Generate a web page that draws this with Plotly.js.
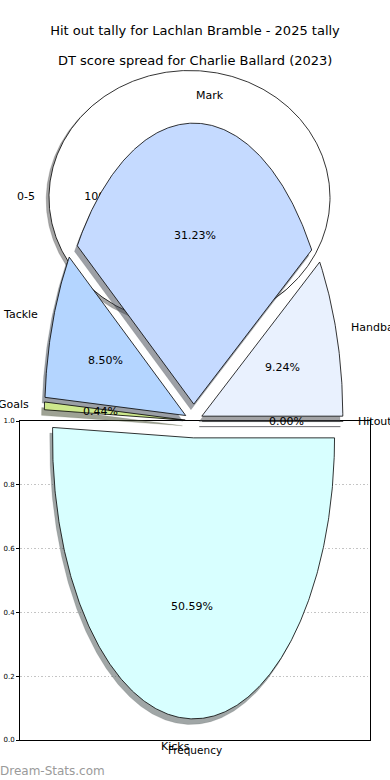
<!DOCTYPE html>
<html>
<head>
<meta charset="utf-8">
<script src="https://cdn.plot.ly/plotly-3.0.1.min.js"></script>
<style>html,body{margin:0;padding:0;background:#fff;}#chart{width:390px;height:780px;}</style>
</head>
<body>
<div id="chart"></div>
<script>
// ---- data ----
const categories = ['Hitout', 'Handball', 'Mark', 'Tackle', 'Goals', 'Kicks'];
const shares = [0.00, 9.24, 31.23, 8.50, 0.44, 50.59];
const spreadBins = ['0-5'];
const spreadCounts = [1];
const yTickVals = [0.0, 0.2, 0.4, 0.6, 0.8, 1.0];
const yTickText = ['0.0', '0.2', '0.4', '0.6', '0.8', '1.0'];
const mainTitle = 'Hit out tally for Lachlan Bramble - 2025 tally';
const subTitle = 'DT score spread for Charlie Ballard (2023)';
const xLabel = 'Frequency';
const watermark = 'Dream-Stats.com';

// ---- styles ----
const wedgeColors = [[236, 242, 255], [233, 241, 254], [197, 218, 255], [180, 213, 255], [205, 232, 140], [216, 255, 255]];
const EXPLODE = 0.06, SHADOW = -0.02, LABEL_D = 1.1, PCT_D = 0.6;
const FONT = 'DejaVu Sans, sans-serif';

function wedgePath(t1, t2, e, ox, oy) {
  const full = Math.abs(t2 - t1 - 360) < 1e-9;
  const mid = (t1 + t2) / 2 * Math.PI / 180;
  const cx = e * Math.cos(mid) + ox, cy = e * Math.sin(mid) + oy;
  const xs = [], ys = [];
  if (!full) { xs.push(cx); ys.push(cy); }
  const n = Math.max(2, Math.ceil((t2 - t1) / 0.5));
  for (let i = 0; i <= n; i++) {
    const a = (t1 + (t2 - t1) * i / n) * Math.PI / 180;
    xs.push(cx + Math.cos(a)); ys.push(cy + Math.sin(a));
  }
  if (!full) { xs.push(cx); ys.push(cy); }
  return {xs, ys};
}
const rgb = c => `rgb(${c[0]},${c[1]},${c[2]})`;
const shadowCol = c => `rgba(${Math.round(c[0]*0.3)},${Math.round(c[1]*0.3)},${Math.round(c[2]*0.3)},0.5)`;

const traces = [];
// empty trace for box axes
traces.push({type: 'scatter', x: [], y: [], xaxis: 'x', yaxis: 'y', hoverinfo: 'skip', showlegend: false});

// background single-slice pie (score spread)
const spreadTotal = spreadCounts.reduce((a, b) => a + b, 0);
let st = 0;
spreadCounts.forEach((v, i) => {
  const t1 = st, t2 = st + 360 * v / spreadTotal; st = t2;
  const sh = wedgePath(t1, t2, 0, SHADOW, SHADOW);
  traces.push({type: 'scatter', x: sh.xs, y: sh.ys, xaxis: 'x2', yaxis: 'y2', mode: 'lines', fill: 'toself',
    fillcolor: shadowCol([255,255,255]), line: {color: shadowCol([255,255,255]), width: 0.5}, hoverinfo: 'skip', showlegend: false});
  const w = wedgePath(t1, t2, 0, 0, 0);
  traces.push({type: 'scatter', x: w.xs, y: w.ys, xaxis: 'x2', yaxis: 'y2', mode: 'lines', fill: 'toself',
    fillcolor: '#ffffff', line: {color: '#000', width: 0.8}, hoverinfo: 'skip', showlegend: false});
  const mid = (t1 + t2) / 2 * Math.PI / 180;
  const lx = LABEL_D * Math.cos(mid), ly = LABEL_D * Math.sin(mid);
  traces.push({type: 'scatter', x: [lx], y: [ly], xaxis: 'x2', yaxis: 'y2', mode: 'text', text: [spreadBins[i]],
    textposition: lx > 0 ? 'middle right' : 'middle left', textfont: {family: FONT, size: 11, color: '#000'},
    hoverinfo: 'skip', showlegend: false, cliponaxis: false});
  traces.push({type: 'scatter', x: [PCT_D * Math.cos(mid)], y: [PCT_D * Math.sin(mid)], xaxis: 'x2', yaxis: 'y2', mode: 'text',
    text: [(100 * v / spreadTotal).toFixed(1) + '%'], textposition: 'middle center',
    textfont: {family: FONT, size: 11, color: '#000'}, hoverinfo: 'skip', showlegend: false, cliponaxis: false});
});

// main exploded pie with shadows
const total = shares.reduce((a, b) => a + b, 0);
const annotations = [];
let t = 0;
shares.forEach((v, i) => {
  const t1 = t, t2 = t + 360 * v / total; t = t2;
  const c = wedgeColors[i];
  const sh = wedgePath(t1, t2, EXPLODE, SHADOW, SHADOW);
  traces.push({type: 'scatter', x: sh.xs, y: sh.ys, xaxis: 'x3', yaxis: 'y3', mode: 'lines', fill: 'toself',
    fillcolor: shadowCol(c), line: {color: shadowCol(c), width: v === 0 ? 1 : 0.3}, hoverinfo: 'skip', showlegend: false});
  const w = wedgePath(t1, t2, EXPLODE, 0, 0);
  traces.push({type: 'scatter', x: w.xs, y: w.ys, xaxis: 'x3', yaxis: 'y3', mode: 'lines', fill: 'toself',
    fillcolor: rgb(c), line: {color: '#000', width: 0.8}, hoverinfo: 'skip', showlegend: false});
  const mid = (t1 + t2) / 2 * Math.PI / 180;
  const lx = (EXPLODE + LABEL_D) * Math.cos(mid), ly = (EXPLODE + LABEL_D) * Math.sin(mid);
  annotations.push({xref: 'x3', yref: 'y3', x: lx, y: ly, text: categories[i], showarrow: false,
    xanchor: lx > 0 ? 'left' : 'right', yanchor: 'middle', borderpad: 0,
    font: {family: FONT, size: 11, color: '#000'}});
  annotations.push({xref: 'x3', yref: 'y3', x: (EXPLODE + PCT_D) * Math.cos(mid), y: (EXPLODE + PCT_D) * Math.sin(mid),
    text: v.toFixed(2) + '%', showarrow: false, xanchor: 'center', yanchor: 'middle', borderpad: 0,
    font: {family: FONT, size: 11, color: '#000'}});
});

annotations.push({xref: 'paper', yref: 'paper', x: 0.5, y: 1 - 61 / 780, text: subTitle, showarrow: false,
  xanchor: 'center', yanchor: 'middle', font: {family: FONT, size: 13, color: '#000'}});
annotations.push({xref: 'paper', yref: 'paper', x: -2 / 390, y: 1 - 771 / 780, text: watermark, showarrow: false,
  xanchor: 'left', yanchor: 'middle', font: {family: FONT, size: 12, color: '#9a9a9a'}});

// pie coordinate frames (pixel centre & radii of the drawing)
const W = 390, H = 780;
const P = {cx: 193.7, cy: 421, rx: 141, ry: 281};
const C = {cx: 189.5, cy: 197.5, rx: 140.5, ry: 127};
const hidden = (range, anchor) => ({domain: [0, 1], range, anchor, visible: false, fixedrange: true, automargin: false});

const layout = {
  width: W, height: H,
  margin: {l: 0, r: 0, t: 0, b: 0},
  paper_bgcolor: '#ffffff', plot_bgcolor: 'rgba(0,0,0,0)',
  showlegend: false,
  title: {text: mainTitle, x: 0.5, xanchor: 'center', y: 1 - 30 / 780, yanchor: 'middle',
    font: {family: FONT, size: 13, color: '#000'}},
  xaxis: {domain: [20 / W, 370 / W], range: [0, 1], anchor: 'y', showgrid: false, zeroline: false,
    showticklabels: false, ticks: '', showline: true, mirror: true, linecolor: '#000', linewidth: 1,
    automargin: false, fixedrange: true,
    title: {text: xLabel, standoff: 6, font: {family: FONT, size: 10.5, color: '#000'}}},
  yaxis: {domain: [(H - 740) / H, (H - 421) / H], range: [0, 1], anchor: 'x', tickvals: yTickVals, ticktext: yTickText,
    ticks: 'outside', ticklen: 3, tickcolor: '#000', showline: true, mirror: true, linecolor: '#000', linewidth: 1,
    showgrid: true, gridcolor: '#c4c4c4', griddash: '1.5px,2px', gridwidth: 1, zeroline: false,
    tickfont: {family: FONT, size: 7, color: '#000'}, automargin: false, fixedrange: true},
  xaxis2: hidden([-C.cx / C.rx, (W - C.cx) / C.rx], 'y2'),
  yaxis2: hidden([-(H - C.cy) / C.ry, C.cy / C.ry], 'x2'),
  xaxis3: hidden([-P.cx / P.rx, (W - P.cx) / P.rx], 'y3'),
  yaxis3: hidden([-(H - P.cy) / P.ry, P.cy / P.ry], 'x3'),
  annotations
};

Plotly.newPlot('chart', traces, layout, {staticPlot: true, displayModeBar: false});
</script>
</body>
</html>
